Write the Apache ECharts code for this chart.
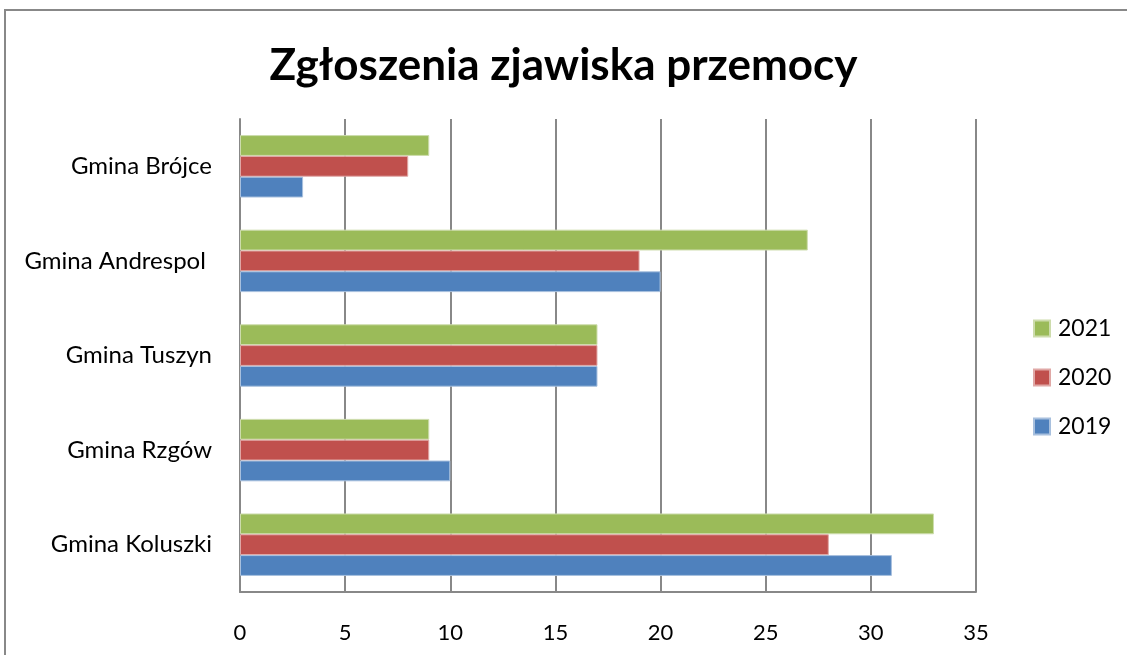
<!DOCTYPE html>
<html><head><meta charset="utf-8">
<script src="https://cdn.jsdelivr.net/npm/echarts@6/dist/echarts.min.js"></script>
<style>html,body{margin:0;padding:0;background:#fff;}#c{width:1127px;height:655px;}</style>
</head><body><div id="c"></div>
<script>
const categories = ['Gmina Koluszki', 'Gmina Rzgów', 'Gmina Tuszyn', 'Gmina Andrespol ', 'Gmina Brójce'];
const s2019 = [31, 10, 17, 20, 3];
const s2020 = [28, 9, 17, 19, 8];
const s2021 = [33, 9, 17, 27, 9];
const xTicks = [0, 5, 10, 15, 20, 25, 30, 35];
const FONT = 'Lato, "Open Sans", "Noto Sans", sans-serif';

const chart = echarts.init(document.getElementById('c'), null, {renderer: 'canvas'});
function bar(name, data, color, border) {
  return {name, type: 'bar', data, barCategoryGap: '34%', barGap: '0%',
    itemStyle: {color, borderColor: border, borderWidth: 1}};
}
chart.setOption({
  animation: false,
  backgroundColor: '#fff',
  title: {text: 'Zgłoszenia zjawiska przemocy', left: 'center', top: 39,
    textStyle: {fontFamily: FONT, fontWeight: 'bold', fontSize: 44, color: '#000'}},
  graphic: [{type: 'rect', shape: {x: 5, y: 10, width: 1200, height: 700},
    style: {fill: 'none', stroke: '#888', lineWidth: 2}, silent: true}],
  legend: {orient: 'vertical', left: 1033, top: 317, padding: 0, itemWidth: 16, itemHeight: 16, itemGap: 26,
    data: ['2021', '2020', '2019'], icon: 'rect',
    textStyle: {fontFamily: FONT, fontSize: 23, color: '#000', padding: [0, 0, 0, 3]}},
  grid: {left: 240, right: 151, top: 119, bottom: 63, containLabel: false},
  xAxis: {type: 'value', min: 0, max: 35, interval: 5,
    axisLine: {show: true, lineStyle: {color: '#888', width: 2}},
    axisTick: {show: false},
    axisLabel: {margin: 30, fontFamily: FONT, fontSize: 22, color: '#000',
      formatter: v => xTicks.includes(v) ? String(v) : ''},
    splitLine: {show: true, lineStyle: {color: '#888', width: 2}}},
  yAxis: {type: 'category', data: categories,
    axisLine: {show: true, lineStyle: {color: '#888', width: 2}},
    axisTick: {show: false},
    axisLabel: {margin: 28, fontFamily: FONT, fontSize: 24, color: '#000'}},
  series: [
    bar('2021', s2021, '#9bbb59', '#cddcac'),
    bar('2020', s2020, '#c0504d', '#e0a8a6'),
    bar('2019', s2019, '#4f81bd', '#a8c0de')
  ]
});
</script></body></html>
